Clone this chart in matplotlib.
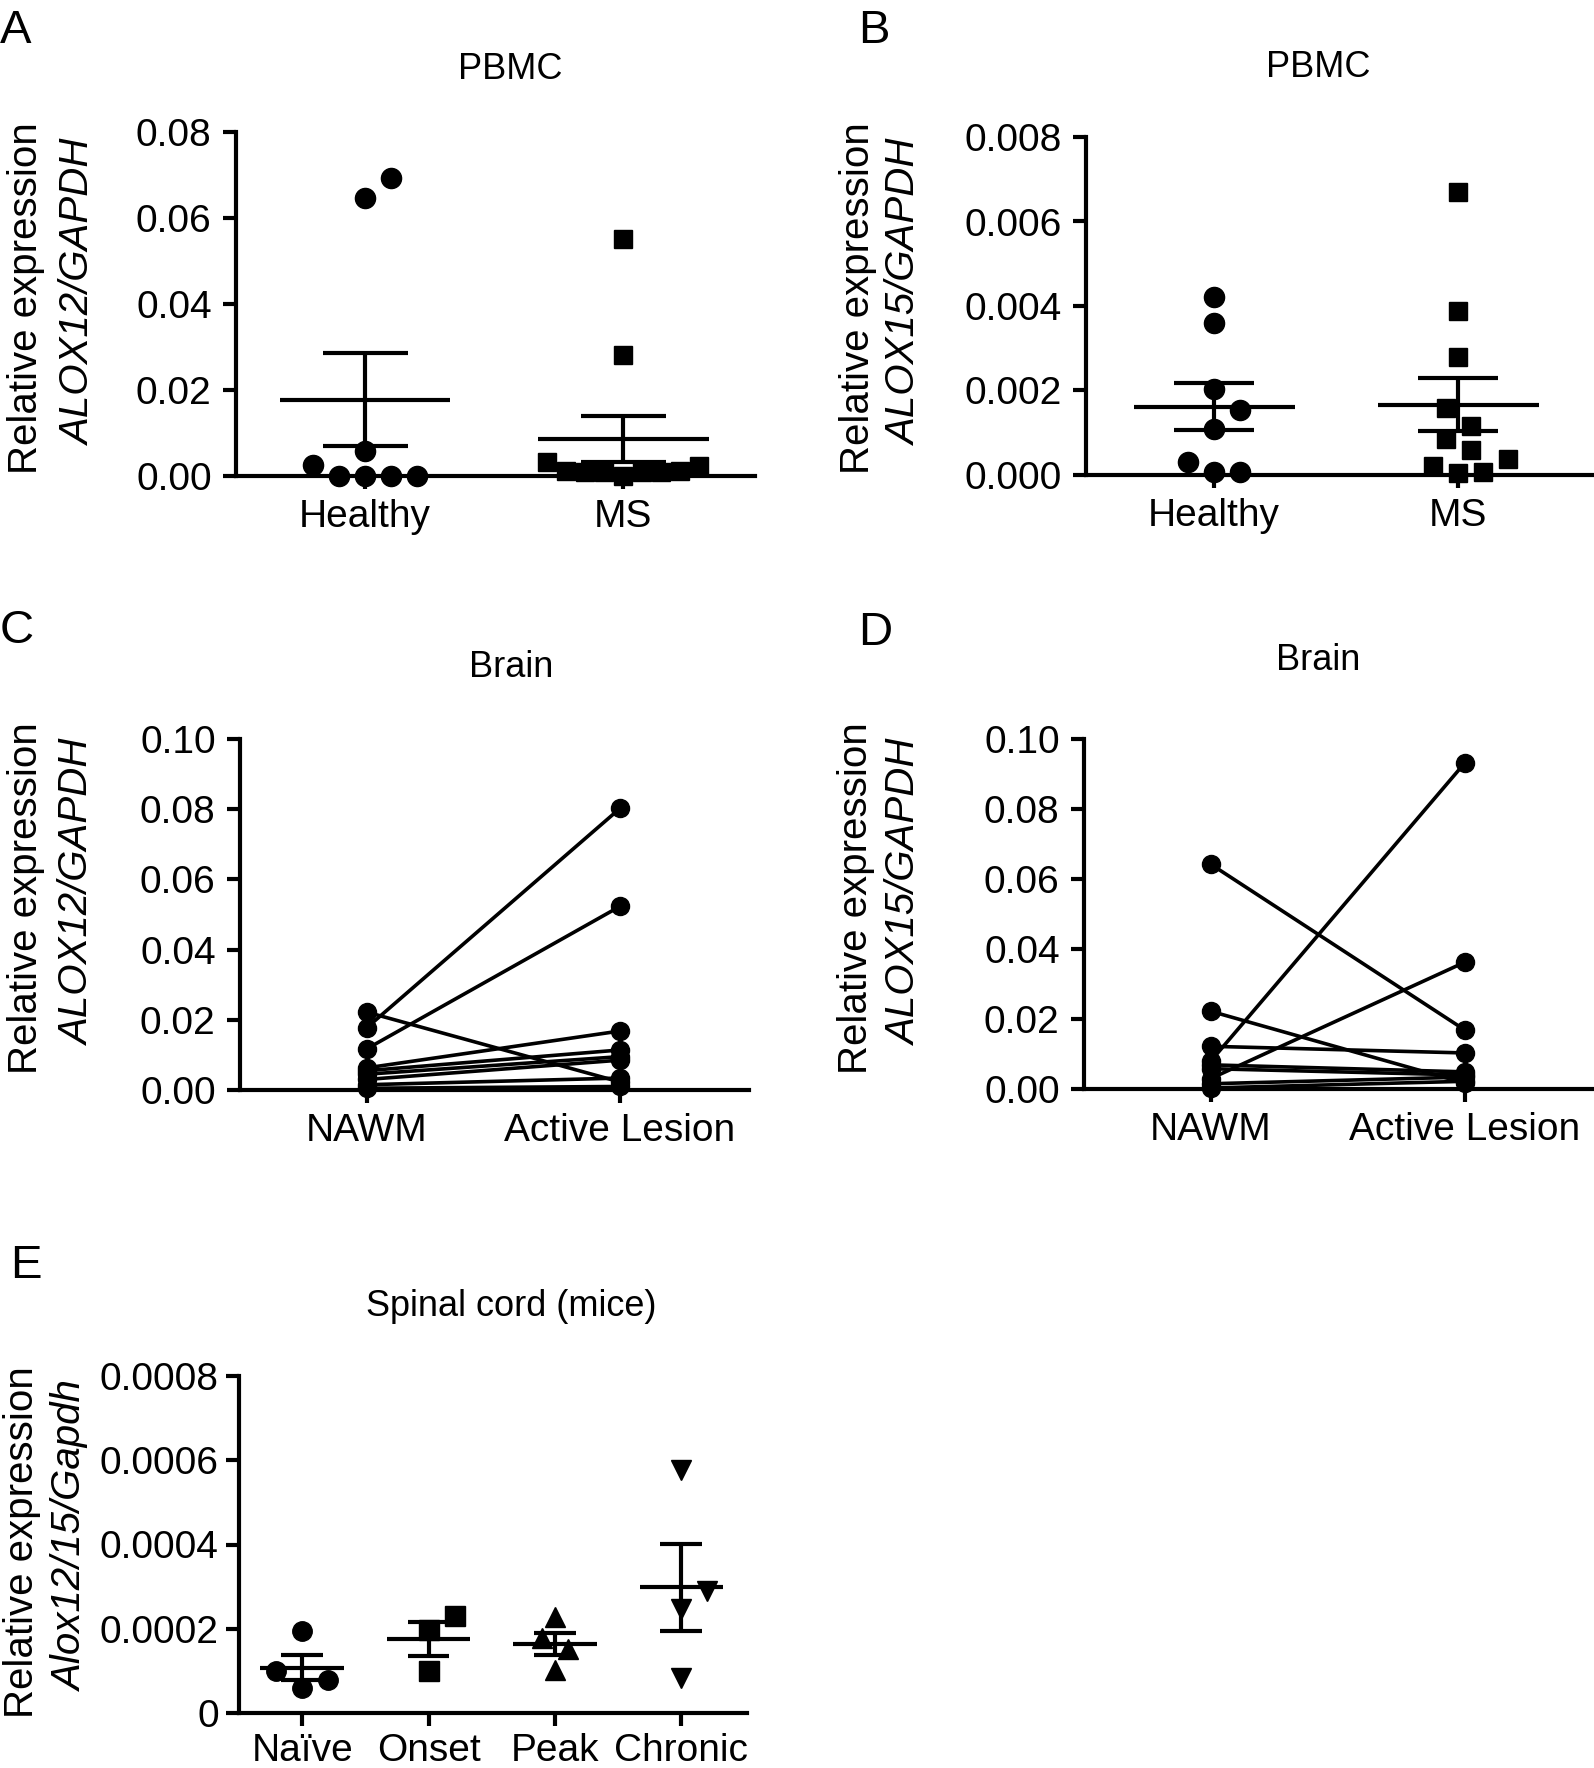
import numpy as np
import matplotlib
matplotlib.use("Agg")
import matplotlib.pyplot as plt

plt.rcParams['font.family'] = ['Liberation Sans', 'DejaVu Sans']

# ---- data ----
groups_pbmc = ["Healthy", "MS"]
healthy_a = [0.0692, 0.0646, 0.0059, 0.0026, 0.0, 0.0, 0.0, 0.0]
ms_a = [0.0552, 0.0282, 0.0032, 0.0023, 0.0011, 0.0011, 0.0010, 0.0010, 0.0009, 0.0009, 0.0]
yticks_a = [0.0, 0.02, 0.04, 0.06, 0.08]
yticklabels_a = ["0.00", "0.02", "0.04", "0.06", "0.08"]

healthy_b = [0.00422, 0.00360, 0.00203, 0.00154, 0.00110, 0.00030, 0.00007, 0.00007]
ms_b = [0.00671, 0.00389, 0.00279, 0.00158, 0.00117, 0.00085, 0.00058, 0.00038, 0.00021, 0.00007, 0.00004]
yticks_b = [0.0, 0.002, 0.004, 0.006, 0.008]
yticklabels_b = ["0.000", "0.002", "0.004", "0.006", "0.008"]

groups_brain = ["NAWM", "Active Lesion"]
nawm_c = [0.0222, 0.0177, 0.0117, 0.0063, 0.0055, 0.0045, 0.0030, 0.0015, 0.0005]
lesion_c = [0.0023, 0.0802, 0.0523, 0.0168, 0.0114, 0.0095, 0.0085, 0.0034, 0.0010]
nawm_d = [0.0642, 0.0222, 0.0122, 0.0080, 0.0069, 0.0058, 0.0030, 0.0015, 0.0003]
lesion_d = [0.0169, 0.0017, 0.0103, 0.0931, 0.0049, 0.0040, 0.0362, 0.0034, 0.0022]
yticks_cd = [0.0, 0.02, 0.04, 0.06, 0.08, 0.10]
yticklabels_cd = ["0.00", "0.02", "0.04", "0.06", "0.08", "0.10"]

groups_mice = ["Naïve", "Onset", "Peak", "Chronic"]
naive = [0.000194, 0.0000991, 0.0000776, 0.0000603]
onset = [0.000230, 0.000198, 0.0000991]
peak = [0.000228, 0.000177, 0.000151, 0.000103]
chronic = [0.000578, 0.000289, 0.000246, 0.0000819]
markers_mice = ['o', 's', '^', 'v']
yticks_e = [0.0, 0.0002, 0.0004, 0.0006, 0.0008]
yticklabels_e = ["0", "0.0002", "0.0004", "0.0006", "0.0008"]

W, H = 1594, 1768
fig = plt.figure(figsize=(W / 100, H / 100), dpi=100)

LW = 3.0


def add_panel(left, top, right, bottom):
    return fig.add_axes([left / W, 1 - bottom / H, (right - left) / W, (bottom - top) / H])


def style_axes(ax, xlim, yticks, ylabels, xlabels, ypad=8, xpad=7):
    ax.set_xlim(*xlim)
    ax.set_ylim(yticks[0], yticks[-1])
    ax.set_yticks(yticks)
    ax.set_yticklabels(ylabels)
    ax.set_xticks(range(len(xlabels)))
    ax.set_xticklabels(xlabels)
    for s in ['top', 'right']:
        ax.spines[s].set_visible(False)
    for s in ['left', 'bottom']:
        ax.spines[s].set_linewidth(LW)
    ax.tick_params(axis='both', length=9.5, width=LW, direction='out', labelsize=28)
    ax.tick_params(axis='y', pad=ypad)
    ax.tick_params(axis='x', pad=xpad)
    ax.patch.set_visible(False)


def swarm(ax, values, min_dist=24, step=13):
    # spread equal-ish values sideways so markers don't overlap (pixel space)
    bb = ax.get_window_extent()
    x0, x1 = ax.get_xlim()
    y0, y1 = ax.get_ylim()
    px_x = bb.width / (x1 - x0)
    px_y = bb.height / (y1 - y0)
    vals = np.asarray(values)
    offs = np.zeros(len(vals))
    placed = []
    cands = [0.0] + [sgn * j * step for j in range(1, 30) for sgn in (1, -1)]
    for i in np.argsort(vals, kind='stable'):
        y = vals[i] * px_y
        for c in cands:
            if all(np.hypot(c - px, y - py) >= min_dist for px, py in placed):
                break
        placed.append((c, y))
        offs[i] = c / px_x
    return offs


def scatter_group(ax, xpos, values, marker, ms, min_dist=24, step=13):
    offs = swarm(ax, values, min_dist, step)
    ax.plot(xpos + offs, values, linestyle='none', marker=marker, ms=ms,
            color='black', clip_on=False, zorder=4)
    vals = np.asarray(values)
    m = vals.mean()
    sem = vals.std(ddof=1) / np.sqrt(len(vals))
    ax.hlines(m, xpos - 0.33, xpos + 0.33, color='black', lw=LW, zorder=3)
    ax.hlines([m - sem, m + sem], xpos - 0.165, xpos + 0.165, color='black', lw=LW, zorder=3)
    ax.vlines(xpos, m - sem, m + sem, color='black', lw=LW, zorder=3)


def paired(ax, before, after):
    for b, a in zip(before, after):
        ax.plot([0, 1], [b, a], '-o', color='black', lw=2.6, ms=13, clip_on=False, zorder=3)


def ylabel2(x1, x2, yc, gene):
    fig.text(x1 / W, 1 - yc / H, "Relative expression", rotation=90,
             ha='center', va='center', fontsize=29)
    fig.text(x2 / W, 1 - (yc - 6) / H, gene, rotation=90, style='italic',
             ha='center', va='center', fontsize=29)


def panel_text(x, y, s, size, ha='left'):
    fig.text(x / W, 1 - y / H, s, fontsize=size, ha=ha, va='baseline')


# ---- A ----
axA = add_panel(236, 132, 755, 476)
style_axes(axA, (-0.5, 1.51), yticks_a, yticklabels_a, groups_pbmc)
scatter_group(axA, 0, healthy_a, 'o', 14.5, min_dist=25, step=13)
scatter_group(axA, 1, ms_a, 's', 13, min_dist=19, step=9.5)
ylabel2(26, 79, 298, "ALOX12/GAPDH")
panel_text(510, 79, "PBMC", 26, ha='center')
panel_text(0, 43, "A", 34)

# ---- B ----
axB = add_panel(1086, 137, 1594, 475)
style_axes(axB, (-0.525, 1.557), yticks_b, yticklabels_b, groups_pbmc)
scatter_group(axB, 0, healthy_b, 'o', 14.5, min_dist=25, step=13)
scatter_group(axB, 1, ms_b, 's', 13, min_dist=24, step=12.5)
ylabel2(858, 905, 298, "ALOX15/GAPDH")
panel_text(1318, 77, "PBMC", 26, ha='center')
panel_text(858, 43, "B", 34)

# ---- C ----
axC = add_panel(240, 739, 749, 1090)
style_axes(axC, (-0.5, 1.51), yticks_cd, yticklabels_cd, groups_brain)
paired(axC, nawm_c, lesion_c)
ylabel2(26, 78, 898, "ALOX12/GAPDH")
panel_text(511, 677, "Brain", 26, ha='center')
panel_text(0, 643, "C", 34)

# ---- D ----
axD = add_panel(1084, 739, 1594, 1089)
style_axes(axD, (-0.5, 1.51), yticks_cd, yticklabels_cd, groups_brain)
paired(axD, nawm_d, lesion_d)
ylabel2(856, 905, 898, "ALOX15/GAPDH")
panel_text(1318, 670, "Brain", 26, ha='center')
panel_text(858, 645, "D", 34)

# ---- E ----
axE = add_panel(239, 1376, 747, 1713)
style_axes(axE, (-0.5, 3.52), yticks_e, yticklabels_e, groups_mice, ypad=5, xpad=5)
for i, vals in enumerate([naive, onset, peak, chronic]):
    scatter_group(axE, i, vals, markers_mice[i], 14)
ylabel2(22, 71, 1542, "Alox12/15/Gapdh")
panel_text(511, 1316, "Spinal cord (mice)", 26, ha='center')
panel_text(10, 1278, "E", 34)

fig.savefig("out.png", dpi=100)
